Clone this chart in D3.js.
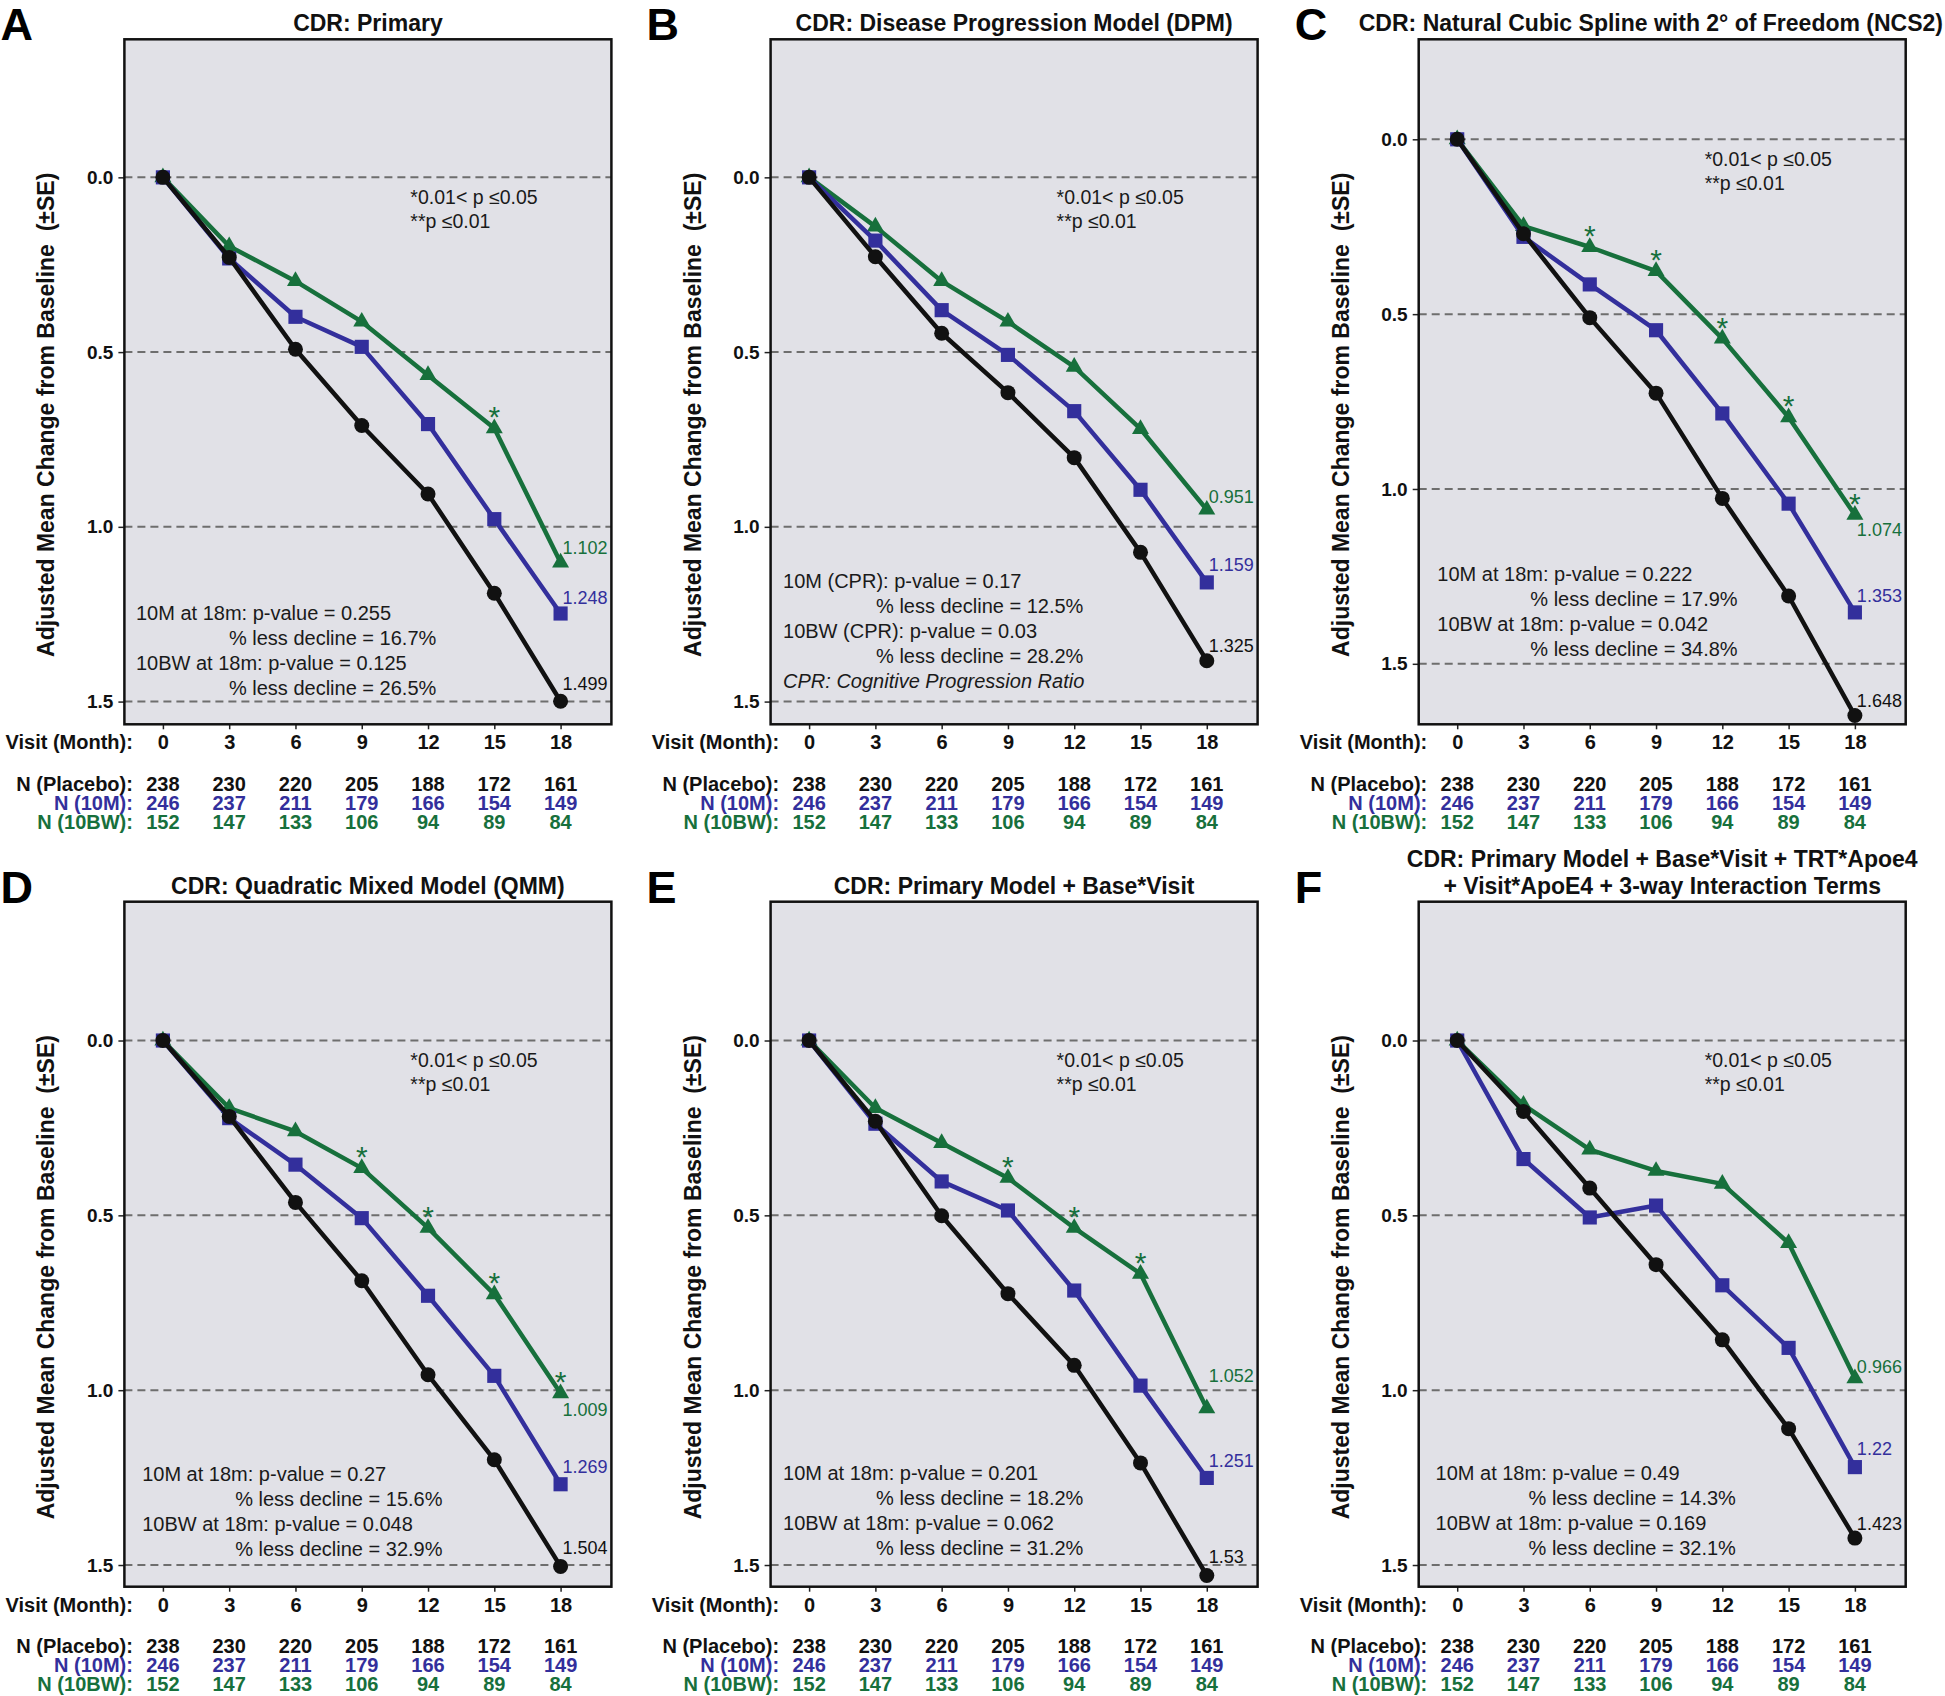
<!DOCTYPE html>
<html>
<head>
<meta charset="utf-8">
<script src="https://cdn.jsdelivr.net/npm/d3@7"></script>
<style>
  body { margin: 0; background: #fff; }
  text { font-family: "Liberation Sans", Arial, Helvetica, sans-serif; }
</style>
</head>
<body>
<div id="chart"></div>
<script>
// visits and sample sizes (same in every panel)
const months = [0, 3, 6, 9, 12, 15, 18];
const nPlacebo = [238, 230, 220, 205, 188, 172, 161];
const n10M = [246, 237, 211, 179, 166, 154, 149];
const n10BW = [152, 147, 133, 106, 94, 89, 84];
const yTicks = [0, 0.5, 1.0, 1.5];

// A: primary
const placeboA = [0, 0.229, 0.492, 0.710, 0.906, 1.190, 1.499];
const m10A = [0, 0.232, 0.399, 0.485, 0.706, 0.978, 1.248];
const bw10A = [0, 0.197, 0.297, 0.413, 0.566, 0.718, 1.102];
const endLabelsA = ["1.499", "1.248", "1.102"];
const starsA = [15];
const statsA = ["10M at 18m: p-value = 0.255", "% less decline = 16.7%", "10BW at 18m: p-value = 0.125", "% less decline = 26.5%"];

// B: DPM
const placeboB = [0, 0.227, 0.446, 0.616, 0.802, 1.073, 1.383];
const m10B = [0, 0.181, 0.380, 0.508, 0.669, 0.894, 1.159];
const bw10B = [0, 0.141, 0.297, 0.413, 0.542, 0.720, 0.951];
const endLabelsB = ["1.325", "1.159", "0.951"];
const starsB = [];
const statsB = ["10M (CPR): p-value = 0.17", "% less decline = 12.5%", "10BW (CPR): p-value = 0.03", "% less decline = 28.2%", "CPR: Cognitive Progression Ratio"];

// C: NCS2
const placeboC = [0, 0.270, 0.510, 0.726, 1.027, 1.306, 1.648];
const m10C = [0, 0.279, 0.415, 0.546, 0.784, 1.042, 1.353];
const bw10C = [0, 0.248, 0.308, 0.377, 0.570, 0.795, 1.074];
const endLabelsC = ["1.648", "1.353", "1.074"];
const starsC = [6, 9, 12, 15, 18];
const statsC = ["10M at 18m: p-value = 0.222", "% less decline = 17.9%", "10BW at 18m: p-value = 0.042", "% less decline = 34.8%"];

// D: QMM
const placeboD = [0, 0.217, 0.463, 0.687, 0.956, 1.199, 1.504];
const m10D = [0, 0.222, 0.355, 0.508, 0.730, 0.959, 1.269];
const bw10D = [0, 0.193, 0.260, 0.365, 0.536, 0.726, 1.009];
const endLabelsD = ["1.504", "1.269", "1.009"];
const starsD = [9, 12, 15, 18];
const statsD = ["10M at 18m: p-value = 0.27", "% less decline = 15.6%", "10BW at 18m: p-value = 0.048", "% less decline = 32.9%"];

// E: primary + base*visit
const placeboE = [0, 0.231, 0.501, 0.724, 0.929, 1.208, 1.530];
const m10E = [0, 0.238, 0.403, 0.486, 0.715, 0.987, 1.251];
const bw10E = [0, 0.193, 0.293, 0.393, 0.536, 0.667, 1.052];
const endLabelsE = ["1.53", "1.251", "1.052"];
const starsE = [9, 12, 15];
const statsE = ["10M at 18m: p-value = 0.201", "% less decline = 18.2%", "10BW at 18m: p-value = 0.062", "% less decline = 31.2%"];

// F: with ApoE4 interaction terms
const placeboF = [0, 0.203, 0.422, 0.641, 0.856, 1.110, 1.423];
const m10F = [0, 0.339, 0.506, 0.472, 0.700, 0.879, 1.220];
const bw10F = [0, 0.184, 0.312, 0.373, 0.410, 0.579, 0.966];
const endLabelsF = ["1.423", "1.22", "0.966"];
const starsF = [];
const statsF = ["10M at 18m: p-value = 0.49", "% less decline = 14.3%", "10BW at 18m: p-value = 0.169", "% less decline = 32.1%"];

const W = 1945, H = 1696;
const boxW = 487, boxH = 685;
const colX = [124.4, 770.6, 1418.7];
const rowY = [39.3, 901.7];
const xDomain = [-1.743, 20.3];
const cBlack = "#111111", cBlue = "#332f9c", cGreen = "#17703c";
const seriesColors = [cBlack, cBlue, cGreen];

const panels = [
  { id: "A", col: 0, row: 0, title: ["CDR: Primary"], yDom: [-0.395, 1.565],
    series: [placeboA, m10A, bw10A], labels: endLabelsA, stars: starsA, stats: statsA, sx: -1.22, sy: 1.268, ldy: [-11, -10, -8] },
  { id: "B", col: 1, row: 0, title: ["CDR: Disease Progression Model (DPM)"], yDom: [-0.395, 1.565],
    series: [placeboB, m10B, bw10B], labels: endLabelsB, stars: starsB, stats: statsB, sx: -1.18, sy: 1.174, ldy: [-9, -11, -7] },
  { id: "C", col: 2, row: 0, title: ["CDR: Natural Cubic Spline with 2\u00B0 of Freedom (NCS2)"], yDom: [-0.286, 1.673],
    series: [placeboC, m10C, bw10C], labels: endLabelsC, stars: starsC, stats: statsC, sx: -0.9, sy: 1.263, ldy: [-9, -10, 21] },
  { id: "D", col: 0, row: 1, title: ["CDR: Quadratic Mixed Model (QMM)"], yDom: [-0.397, 1.562],
    series: [placeboD, m10D, bw10D], labels: endLabelsD, stars: starsD, stats: statsD, sx: -0.94, sy: 1.261, ldy: [-12, -11, 23] },
  { id: "E", col: 1, row: 1, title: ["CDR: Primary Model + Base*Visit"], yDom: [-0.397, 1.562],
    series: [placeboE, m10E, bw10E], labels: endLabelsE, stars: starsE, stats: statsE, sx: -1.18, sy: 1.256, ldy: [-12, -11, -26] },
  { id: "F", col: 2, row: 1, title: ["CDR: Primary Model + Base*Visit + TRT*Apoe4", "+ Visit*ApoE4 + 3-way Interaction Terms"], yDom: [-0.397, 1.562],
    series: [placeboF, m10F, bw10F], labels: endLabelsF, stars: starsF, stats: statsF, sx: -0.98, sy: 1.256, ldy: [-8, -12, -5] }
];

const svg = d3.select("#chart").append("svg")
  .attr("width", W).attr("height", H);

function drawPanel(p) {
  const left = colX[p.col], top = rowY[p.row];
  const g = svg.append("g").attr("transform", `translate(${left},${top})`);
  const x = d3.scaleLinear().domain(xDomain).range([0, boxW]);
  const y = d3.scaleLinear().domain(p.yDom).range([0, boxH]);

  g.append("rect").attr("width", boxW).attr("height", boxH).attr("fill", "#e1e1e7");

  // dashed reference lines
  g.selectAll(".grid").data(yTicks).join("line")
    .attr("x1", 0).attr("x2", boxW)
    .attr("y1", d => y(d)).attr("y2", d => y(d))
    .attr("stroke", "#6e6e6e").attr("stroke-width", 2)
    .attr("stroke-dasharray", "8,5");

  const yAxis = g.append("g")
    .call(d3.axisLeft(y).tickValues(yTicks).tickFormat(d3.format(".1f")).tickSize(6).tickPadding(5));
  const xAxis = g.append("g").attr("transform", `translate(0,${boxH})`)
    .call(d3.axisBottom(x).tickValues(months).tickSize(5).tickPadding(6));
  [yAxis, xAxis].forEach(a => {
    a.select(".domain").remove();
    a.selectAll(".tick line").attr("stroke", "#222").attr("stroke-width", 1.5);
    a.selectAll(".tick text").attr("fill", "#111").style("font-weight", "bold");
  });
  yAxis.selectAll(".tick text").style("font-size", "19px");
  xAxis.selectAll(".tick text").style("font-size", "20px");

  g.append("rect").attr("width", boxW).attr("height", boxH)
    .attr("fill", "none").attr("stroke", "#111").attr("stroke-width", 2.5);

  // statistics text
  const st = g.append("g").attr("fill", "#1a1a1a").style("font-size", "20px");
  p.stats.forEach((s, i) => {
    st.append("text")
      .attr("x", x(p.sx) + (s.startsWith("%") ? 93 : 0))
      .attr("y", y(p.sy) + i * 25)
      .style("font-style", s.startsWith("CPR") ? "italic" : "normal")
      .text(s);
  });

  // significance key
  const key = g.append("g").attr("fill", "#1a1a1a").style("font-size", "19.5px");
  key.append("text").attr("x", x(11.2)).attr("y", y(0) + 26.5).text("*0.01< p \u22640.05");
  key.append("text").attr("x", x(11.2)).attr("y", y(0) + 50.5).text("**p \u22640.01");

  const line = d3.line().x((d, i) => x(months[i])).y(d => y(d));

  // draw 10BW, 10M, then placebo on top
  [2, 1, 0].forEach(si => {
    const vals = p.series[si];
    const col = seriesColors[si];
    g.append("path").datum(vals)
      .attr("d", line).attr("fill", "none")
      .attr("stroke", col).attr("stroke-width", 4.5).attr("stroke-linejoin", "round");
    const sym = si === 1 ? d3.symbolSquare : d3.symbolTriangle;
    const size = si === 1 ? 200 : 125;
    const pts = g.append("g");
    vals.forEach((v, i) => {
      if (si === 0) {
        pts.append("circle").attr("cx", x(months[i])).attr("cy", y(v)).attr("r", 7.5).attr("fill", col);
      } else {
        pts.append("path").attr("d", d3.symbol(sym, size)())
          .attr("transform", `translate(${x(months[i])},${y(v)})`).attr("fill", col);
      }
    });
    g.append("text")
      .attr("x", x(18) + 2).attr("y", y(vals[vals.length - 1]) + p.ldy[si])
      .attr("fill", col).style("font-size", "18px")
      .text(p.labels[si]);
  });

  // significance stars for 10BW
  g.selectAll(".star").data(p.stars).join("text")
    .attr("x", d => x(d)).attr("y", d => y(p.series[2][months.indexOf(d)]) - 1)
    .attr("text-anchor", "middle").attr("fill", cGreen)
    .style("font-size", "30px").text("*");

  // titles
  const cx = left + boxW / 2;
  p.title.forEach((t, i) => {
    const tt = svg.append("text")
      .attr("x", cx).attr("y", top - 8 - (p.title.length - 1 - i) * 26.7)
      .attr("text-anchor", "middle").attr("fill", "#111")
      .style("font-size", "23px").style("font-weight", "bold").text(t);
    const len = tt.node().getComputedTextLength();
    if (cx + len / 2 > W - 2) tt.attr("x", W - 2 - len / 2);
  });

  // panel letter
  svg.append("text").attr("x", left - 124).attr("y", top + 1)
    .attr("fill", "#000").style("font-size", "45px").style("font-weight", "bold").text(p.id);

  // y axis title
  svg.append("text")
    .attr("transform", `translate(${left - 70},${top + boxH / 2 + 33}) rotate(-90)`)
    .attr("text-anchor", "middle").attr("fill", "#111")
    .style("font-size", "23px").style("font-weight", "bold")
    .text("Adjusted Mean Change from Baseline\u00A0\u00A0(\u00B1SE)");

  // visit row and N table
  const labX = left + x(0) - 30;
  const bottom = top + boxH;
  svg.append("text").attr("x", labX).attr("y", bottom + 25)
    .attr("text-anchor", "end").attr("fill", "#111")
    .style("font-size", "20px").style("font-weight", "bold").text("Visit (Month):");

  const rows = [
    { label: "N (Placebo):", vals: nPlacebo, color: cBlack, dy: 66.5 },
    { label: "N (10M):", vals: n10M, color: cBlue, dy: 85.3 },
    { label: "N (10BW):", vals: n10BW, color: cGreen, dy: 104.2 }
  ];
  rows.forEach(r => {
    const rg = svg.append("g").attr("fill", r.color)
      .style("font-size", "20px").style("font-weight", "bold");
    rg.append("text").attr("x", labX).attr("y", bottom + r.dy)
      .attr("text-anchor", "end").text(r.label);
    rg.selectAll(".n").data(r.vals).join("text")
      .attr("x", (d, i) => left + x(months[i])).attr("y", bottom + r.dy)
      .attr("text-anchor", "middle").text(d => d);
  });
}

panels.forEach(drawPanel);
</script>
</body>
</html>
